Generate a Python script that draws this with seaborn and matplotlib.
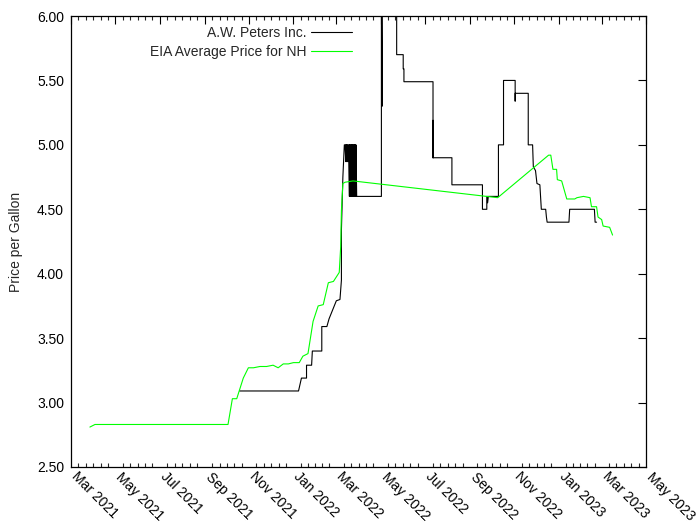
import numpy as np
import pandas as pd
import matplotlib
matplotlib.use("Agg")
import matplotlib.pyplot as plt
import matplotlib.dates as mdates
from matplotlib.ticker import FixedLocator, FormatStrFormatter
import seaborn as sns

# ---------------- data ----------------
eia_dates = ["2021-03-27", "2021-04-03", "2021-10-03", "2021-10-09", "2021-10-15",
             "2021-10-24", "2021-10-31", "2021-11-07", "2021-11-16", "2021-11-25",
             "2021-12-04", "2021-12-11", "2021-12-18", "2021-12-25", "2022-01-01",
             "2022-01-09", "2022-01-14", "2022-01-21", "2022-01-28", "2022-02-04",
             "2022-02-11", "2022-02-18", "2022-02-25", "2022-03-05", "2022-03-07",
             "2022-03-08", "2022-03-10", "2022-03-13", "2022-03-24", "2022-10-09",
             "2022-12-18", "2022-12-21", "2022-12-24", "2022-12-29", "2022-12-30",
             "2023-01-05", "2023-01-11", "2023-01-12", "2023-01-23", "2023-01-26",
             "2023-02-04", "2023-02-13", "2023-02-15", "2023-02-22", "2023-02-24",
             "2023-03-01", "2023-03-03", "2023-03-12", "2023-03-16"]
eia_prices = [2.81, 2.83, 2.83, 3.03, 3.03, 3.19, 3.27, 3.27, 3.28, 3.28,
              3.29, 3.27, 3.30, 3.30, 3.31, 3.31, 3.36, 3.38, 3.63, 3.75,
              3.76, 3.93, 3.94, 4.01, 4.21, 4.49, 4.70, 4.71, 4.72, 4.59,
              4.92, 4.92, 4.81, 4.81, 4.73, 4.72, 4.60, 4.58, 4.58, 4.59,
              4.60, 4.59, 4.52, 4.52, 4.44, 4.42, 4.37, 4.36, 4.30]

aw_dates = ["2021-10-19", "2022-01-08", "2022-01-12", "2022-01-19", "2022-01-19",
            "2022-01-26", "2022-01-27", "2022-02-09", "2022-02-09", "2022-02-16",
            "2022-02-19", "2022-03-01", "2022-03-06", "2022-03-08", "2022-03-08",
            "2022-03-10", "2022-03-12", "2022-03-13",
            "2022-03-14", "2022-03-14", "2022-03-15", "2022-03-15",
            "2022-03-16", "2022-03-16", "2022-03-17", "2022-03-17",
            "2022-03-18", "2022-03-19", "2022-03-19", "2022-03-20", "2022-03-20",
            "2022-03-21", "2022-03-21", "2022-03-22", "2022-03-22",
            "2022-03-23", "2022-03-23", "2022-03-24", "2022-03-24",
            "2022-03-25", "2022-03-25", "2022-03-26", "2022-03-26",
            "2022-03-27", "2022-03-27", "2022-03-28", "2022-03-28",
            "2022-03-29", "2022-05-02",
            "2022-05-02", "2022-05-03", "2022-05-03", "2022-05-23", "2022-05-23",
            "2022-06-01", "2022-06-01", "2022-06-02", "2022-06-02", "2022-07-12",
            "2022-07-12", "2022-07-12", "2022-07-12", "2022-08-07", "2022-08-07",
            "2022-09-18", "2022-09-18", "2022-09-24", "2022-09-24", "2022-09-25",
            "2022-09-25", "2022-09-26", "2022-10-10", "2022-10-10", "2022-10-17",
            "2022-10-17", "2022-11-02", "2022-11-02", "2022-11-02", "2022-11-02",
            "2022-11-20", "2022-11-20", "2022-11-26", "2022-11-27", "2022-11-30",
            "2022-12-02", "2022-12-06", "2022-12-08", "2022-12-14", "2022-12-15",
            "2022-12-16", "2023-01-15", "2023-01-16", "2023-02-19", "2023-02-20",
            "2023-02-22"]
aw_prices = [3.09, 3.09, 3.19, 3.19, 3.29,
             3.29, 3.40, 3.40, 3.59, 3.59,
             3.65, 3.79, 3.80, 3.95, 4.34,
             4.75, 5.00, 5.00,
             4.87, 5.00, 4.87, 5.00,
             4.87, 5.00, 4.87, 5.00,
             5.00, 4.60, 5.00, 4.60, 5.00,
             4.60, 5.00, 4.60, 5.00,
             4.60, 5.00, 4.60, 5.00,
             4.60, 5.00, 4.60, 5.00,
             4.60, 5.00, 4.60, 5.00,
             4.60, 4.60,
             6.30, 5.30, 6.30, 6.30, 5.70,
             5.70, 5.59, 5.59, 5.49, 5.49,
             4.90, 5.19, 4.90, 4.90, 4.69,
             4.69, 4.50, 4.50, 4.60, 4.60,
             4.55, 4.60, 4.60, 5.00, 5.00,
             5.50, 5.50, 5.40, 5.34, 5.40,
             5.40, 5.00, 5.00, 4.83, 4.80,
             4.70, 4.69, 4.50, 4.50, 4.44,
             4.40, 4.40, 4.50, 4.50, 4.40,
             4.40]

series_names = ["A.W. Peters Inc.", "EIA Average Price for NH"]
series_colors = ["#000000", "#00ff00"]
y_label = "Price per Gallon"
x_start, x_end = "2021-03-01", "2023-05-01"
y_min, y_max = 2.5, 6.0

# ---------------- plot ----------------
sns.set_theme(style="white")
plt.rcParams["font.family"] = ["Liberation Sans", "DejaVu Sans"]

aw = pd.DataFrame({"date": pd.to_datetime(aw_dates), "price": aw_prices})
eia = pd.DataFrame({"date": pd.to_datetime(eia_dates), "price": eia_prices})

fig = plt.figure(figsize=(7.0, 5.25), dpi=100)
ax = fig.add_axes([71 / 700, 58 / 525, 575 / 700, 451 / 525])

sns.lineplot(data=aw, x="date", y="price", ax=ax, estimator=None, sort=False,
             color=series_colors[0], linewidth=0.8, label=series_names[0])
sns.lineplot(data=eia, x="date", y="price", ax=ax, estimator=None, sort=False,
             color=series_colors[1], linewidth=0.8, label=series_names[1])

ax.set_xlim(pd.Timestamp(x_start), pd.Timestamp(x_end))
ax.set_ylim(y_min, y_max)

major_dates = pd.date_range(x_start, x_end, freq="2MS")
mj = mdates.date2num(major_dates.to_pydatetime())
ax.xaxis.set_major_locator(FixedLocator(mj))
ax.xaxis.set_major_formatter(mdates.DateFormatter("%b %Y"))
minors = np.concatenate([np.linspace(a, b, 7)[1:-1] for a, b in zip(mj[:-1], mj[1:])])
ax.xaxis.set_minor_locator(FixedLocator(minors))

ax.set_yticks(np.arange(2.5, 6.01, 0.5))
ax.yaxis.set_major_formatter(FormatStrFormatter("%.2f"))

ax.tick_params(axis="both", which="major", direction="in", length=6, width=0.8,
               top=True, right=True, labelsize=10, colors="black")
ax.tick_params(axis="y", which="major", pad=5)
ax.tick_params(axis="x", which="major", pad=7.5)
ax.tick_params(axis="x", which="minor", direction="in", length=3, width=0.8,
               top=True, bottom=True)
for lab in ax.get_xticklabels():
    lab.set_rotation(-45)
    lab.set_ha("left")
    lab.set_va("baseline")
    lab.set_rotation_mode("anchor")

for s in ax.spines.values():
    s.set_color("black")
    s.set_linewidth(0.9)

ax.set_xlabel("")
ax.set_ylabel(y_label, fontsize=10, labelpad=10)
ax.grid(False)

ax.legend(loc="upper right", bbox_to_anchor=(0.489, 0.978), markerfirst=False,
          frameon=False, fontsize=10, handlelength=3.0, handletextpad=0.3,
          labelspacing=0.35, borderpad=0, borderaxespad=0)

fig.savefig("out.png", dpi=100)
